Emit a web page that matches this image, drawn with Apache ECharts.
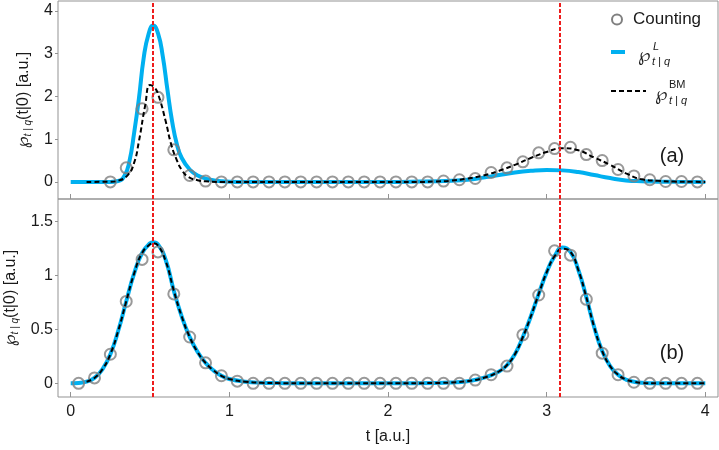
<!DOCTYPE html>
<html>
<head>
<meta charset="utf-8">
<script src="https://cdn.jsdelivr.net/npm/echarts@6/dist/echarts.min.js"></script>
<style>
  html, body { margin: 0; padding: 0; background: #fff; }
  #chart { width: 719px; height: 450px; }
</style>
</head>
<body>
<div id="chart"></div>
<script>
// tick values
const xTicks = [0, 1, 2, 3, 4];
const yTicksA = [0, 1, 2, 3, 4];
const yTicksB = [0, 0.5, 1, 1.5];
const markerTimes = [0.52, 3.08];

// panel (a): counting points
const countT_A = [0.25, 0.35, 0.45, 0.55, 0.65, 0.75, 0.85, 0.95, 1.05, 1.15, 1.25, 1.35, 1.45, 1.55, 1.65, 1.75, 1.85, 1.95,
  2.05, 2.15, 2.25, 2.35, 2.45, 2.55, 2.65, 2.75, 2.85, 2.95, 3.05, 3.15, 3.25, 3.35, 3.45, 3.55, 3.65, 3.75, 3.85, 3.95];
const countA = [0.00, 0.33, 1.71, 1.98, 0.75, 0.15, 0.02, 0.00, 0, 0, 0, 0, 0, 0, 0, 0, 0, 0,
  0, 0, 0.00, 0.02, 0.05, 0.08, 0.22, 0.33, 0.47, 0.68, 0.78, 0.81, 0.64, 0.50, 0.29, 0.14, 0.05, 0.01, 0.01, 0.00];

// panel (a): L curve
const lT_A = [0, 0.25, 0.30, 0.34, 0.37, 0.40, 0.43, 0.46, 0.49, 0.52, 0.55, 0.58, 0.61, 0.64, 0.67, 0.70, 0.75, 0.80, 0.88, 0.95, 1.05,
  2.0, 2.2, 2.4, 2.5, 2.6, 2.7, 2.8, 2.9, 3.0, 3.1, 3.2, 3.3, 3.4, 3.5, 3.6, 3.7, 3.8, 4.0];
const lA = [0, 0, 0.02, 0.15, 0.48, 1.15, 1.95, 2.9, 3.45, 3.66, 3.48, 2.95, 2.15, 1.4, 0.87, 0.56, 0.29, 0.15, 0.05, 0.015, 0,
  0, 0.01, 0.03, 0.05, 0.1, 0.16, 0.22, 0.26, 0.28, 0.27, 0.23, 0.16, 0.09, 0.035, 0.015, 0.006, 0.002, 0];

// panel (a): BM curve
const bmT_A = [0.10, 0.25, 0.30, 0.36, 0.40, 0.43, 0.47, 0.50, 0.53, 0.556, 0.60, 0.634, 0.67, 0.70, 0.74, 0.80, 0.85, 0.95,
  2.2, 2.3, 2.4, 2.5, 2.6, 2.7, 2.8, 2.9, 3.0, 3.1, 3.2, 3.3, 3.4, 3.5, 3.6, 3.7, 3.8, 3.9, 4.0];
const bmA = [0, 0.005, 0.03, 0.16, 0.45, 0.95, 1.8, 2.27, 2.2, 2.0, 1.4, 0.87, 0.5, 0.28, 0.12, 0.04, 0.015, 0,
  0, 0.01, 0.03, 0.08, 0.15, 0.26, 0.4, 0.56, 0.7, 0.79, 0.74, 0.57, 0.4, 0.2, 0.06, 0.025, 0.008, 0.003, 0];

// panel (b): counting points
const countT_B = [0.05, 0.15, 0.25, 0.35, 0.45, 0.55, 0.65, 0.75, 0.85, 0.95, 1.05, 1.15, 1.25, 1.35, 1.45, 1.55, 1.65, 1.75, 1.85, 1.95,
  2.05, 2.15, 2.25, 2.35, 2.45, 2.55, 2.65, 2.75, 2.85, 2.95, 3.05, 3.15, 3.25, 3.35, 3.45, 3.55, 3.65, 3.75, 3.85, 3.95];
const countB = [0.00, 0.05, 0.27, 0.76, 1.15, 1.22, 0.83, 0.43, 0.19, 0.07, 0.02, 0, 0, 0, 0, 0, 0, 0, 0, 0,
  0, 0, 0, 0, 0.00, 0.03, 0.08, 0.16, 0.45, 0.82, 1.23, 1.19, 0.78, 0.28, 0.08, 0.01, 0, 0, 0, 0];

// panel (b): L curve
const lT_B = [0, 0.05, 0.1, 0.15, 0.2, 0.25, 0.3, 0.35, 0.4, 0.45, 0.5, 0.52, 0.55, 0.6, 0.65, 0.7, 0.75, 0.8, 0.85, 0.9, 0.95, 1.0,
  1.1, 1.2, 1.3, 1.5, 2.0, 2.3, 2.4, 2.5, 2.6, 2.7, 2.75, 2.8, 2.85, 2.9, 2.95, 3.0, 3.05, 3.1, 3.15, 3.2, 3.25, 3.3, 3.35, 3.4,
  3.45, 3.5, 3.55, 3.6, 3.7, 3.8, 4.0];
const lB = [0, 0.003, 0.015, 0.05, 0.13, 0.27, 0.49, 0.76, 1.02, 1.21, 1.30, 1.31, 1.29, 1.14, 0.86, 0.62, 0.43, 0.29, 0.19, 0.12, 0.07, 0.04,
  0.015, 0.005, 0.002, 0, 0, 0.003, 0.008, 0.02, 0.05, 0.11, 0.17, 0.27, 0.43, 0.62, 0.83, 1.03, 1.18, 1.26, 1.22, 1.05, 0.8, 0.52, 0.3, 0.16,
  0.08, 0.035, 0.015, 0.005, 0, 0, 0];

// panel (b): BM curve
const bmT_B = [0.1, 0.15, 0.2, 0.25, 0.3, 0.35, 0.4, 0.45, 0.5, 0.52, 0.55, 0.6, 0.65, 0.7, 0.75, 0.8, 0.85, 0.9, 0.95, 1.0,
  1.1, 1.2, 1.3, 1.5, 2.0, 2.3, 2.4, 2.5, 2.6, 2.7, 2.75, 2.8, 2.85, 2.9, 2.95, 3.0, 3.05, 3.1, 3.15, 3.2, 3.25, 3.3, 3.35, 3.4,
  3.45, 3.5, 3.55, 3.6, 3.7, 3.8, 4.0];
const bmB = [0.015, 0.05, 0.13, 0.27, 0.49, 0.76, 1.02, 1.21, 1.29, 1.30, 1.28, 1.13, 0.86, 0.62, 0.43, 0.29, 0.19, 0.12, 0.07, 0.04,
  0.015, 0.005, 0.002, 0, 0, 0.003, 0.008, 0.02, 0.05, 0.11, 0.17, 0.27, 0.43, 0.62, 0.83, 1.03, 1.18, 1.25, 1.22, 1.05, 0.8, 0.52, 0.3, 0.16,
  0.08, 0.035, 0.015, 0.005, 0, 0, 0];

const pairs = (xs, ys) => xs.map((x, i) => [x, ys[i]]);

const BLUE = '#00b0f0';
const RED = '#ee1c1c';
const GRAY = '#808080';
const FRAME = '#939393';
const TXT = '#1a1a1a';
const FONT = 'Liberation Sans, Arial, sans-serif';

const chart = echarts.init(document.getElementById('chart'));

const yName = '{p|℘}{s|t | q}(t|0) [a.u.]';
const yNameStyle = {
    fontSize: 16,
    color: TXT,
    fontFamily: FONT,
    rich: {
        p: { fontSize: 17, fontFamily: 'DejaVu Sans', color: TXT },
        s: { fontSize: 10, fontStyle: 'italic', color: TXT, fontFamily: FONT, padding: [9, 0, 0, 0] }
    }
};

function xAxisFor(gridIndex, withLabels) {
    return {
        type: 'value',
        gridIndex: gridIndex,
        min: -0.08,
        max: 4.08,
        axisLine: { show: false, onZero: false },
        splitLine: { show: false },
        axisTick: {
            show: true,
            inside: true,
            length: 5,
            customValues: xTicks,
            lineStyle: { color: FRAME }
        },
        axisLabel: {
            show: withLabels,
            customValues: xTicks,
            fontSize: 16,
            color: TXT,
            fontFamily: FONT,
            margin: 7
        },
        name: withLabels ? 't [a.u.]' : '',
        nameLocation: 'middle',
        nameGap: 32,
        nameTextStyle: { fontSize: 16, color: TXT, fontFamily: FONT }
    };
}

function yAxisFor(gridIndex, min, max, ticks) {
    return {
        type: 'value',
        gridIndex: gridIndex,
        min: min,
        max: max,
        axisLine: { show: false, onZero: false },
        splitLine: { show: false },
        axisTick: {
            show: true,
            length: 3,
            customValues: ticks,
            lineStyle: { color: FRAME }
        },
        axisLabel: {
            customValues: ticks,
            fontSize: 16,
            color: TXT,
            fontFamily: FONT,
            margin: 5
        },
        name: yName,
        nameLocation: 'middle',
        nameRotate: 90,
        nameGap: 24,
        nameTextStyle: yNameStyle
    };
}

const markLine = {
    symbol: 'none',
    silent: true,
    label: { show: false },
    lineStyle: { color: RED, type: [4, 2], width: 2 },
    data: markerTimes.map(t => ({ xAxis: t }))
};

const gridBase = { left: 58, right: 1, height: 198, show: true, borderColor: FRAME, borderWidth: 1, containLabel: false, outerBoundsMode: 'none' };

const option = {
    animation: false,
    grid: [
        Object.assign({ top: 1 }, gridBase),
        Object.assign({ top: 199 }, gridBase)
    ],
    xAxis: [xAxisFor(0, false), xAxisFor(1, true)],
    yAxis: [
        yAxisFor(0, -0.4, 4.234, yTicksA),
        yAxisFor(1, -0.127, 1.711, yTicksB)
    ],
    series: [
        {
            name: 'Counting', type: 'scatter', xAxisIndex: 0, yAxisIndex: 0,
            data: pairs(countT_A, countA), symbol: 'circle', symbolSize: 11, z: 3,
            itemStyle: { color: 'rgba(0,0,0,0)', borderColor: GRAY, borderWidth: 2 }
        },
        {
            name: 'L', type: 'line', xAxisIndex: 0, yAxisIndex: 0,
            data: pairs(lT_A, lA), smooth: 0.5, showSymbol: false, z: 2,
            lineStyle: { color: BLUE, width: 4 }, markLine: markLine
        },
        {
            name: 'BM', type: 'line', xAxisIndex: 0, yAxisIndex: 0,
            data: pairs(bmT_A, bmA), smooth: 0.5, showSymbol: false, z: 4,
            lineStyle: { color: '#000', width: 2, type: [5, 3] }
        },
        {
            name: 'Counting', type: 'scatter', xAxisIndex: 1, yAxisIndex: 1,
            data: pairs(countT_B, countB), symbol: 'circle', symbolSize: 11, z: 3,
            itemStyle: { color: 'rgba(0,0,0,0)', borderColor: GRAY, borderWidth: 2 }
        },
        {
            name: 'L', type: 'line', xAxisIndex: 1, yAxisIndex: 1,
            data: pairs(lT_B, lB), smooth: 0.5, showSymbol: false, z: 2,
            lineStyle: { color: BLUE, width: 4 }, markLine: markLine
        },
        {
            name: 'BM', type: 'line', xAxisIndex: 1, yAxisIndex: 1,
            data: pairs(bmT_B, bmB), smooth: 0.5, showSymbol: false, z: 4,
            lineStyle: { color: '#000', width: 2, type: [5, 3] }
        }
    ],
    graphic: [
        // legend
        { type: 'circle', shape: { cx: 617, cy: 19.5, r: 5 }, style: { fill: 'none', stroke: GRAY, lineWidth: 2 }, z: 10 },
        { type: 'text', x: 633, y: 19.5, style: { text: 'Counting', fontSize: 17, fontFamily: FONT, fill: TXT, verticalAlign: 'middle' }, z: 10 },
        { type: 'line', shape: { x1: 611, y1: 52, x2: 625, y2: 52 }, style: { stroke: BLUE, lineWidth: 4 }, z: 10 },
        { type: 'text', x: 638, y: 56, style: { text: '℘', fontSize: 18, fontFamily: 'DejaVu Sans', fill: TXT, verticalAlign: 'middle' }, z: 10 },
        { type: 'text', x: 653, y: 47, style: { text: 'L', fontSize: 11, fontStyle: 'italic', fontFamily: FONT, fill: TXT, verticalAlign: 'middle' }, z: 10 },
        { type: 'text', x: 652, y: 62, style: { text: 't | q', fontSize: 11, fontStyle: 'italic', fontFamily: FONT, fill: TXT, verticalAlign: 'middle' }, z: 10 },
        { type: 'line', shape: { x1: 611, y1: 91, x2: 646, y2: 91 }, style: { stroke: '#000', lineWidth: 2, lineDash: [5, 3] }, z: 10 },
        { type: 'text', x: 655, y: 95, style: { text: '℘', fontSize: 18, fontFamily: 'DejaVu Sans', fill: TXT, verticalAlign: 'middle' }, z: 10 },
        { type: 'text', x: 669, y: 85, style: { text: 'BM', fontSize: 11, fontFamily: FONT, fill: TXT, verticalAlign: 'middle' }, z: 10 },
        { type: 'text', x: 669, y: 101, style: { text: 't | q', fontSize: 11, fontStyle: 'italic', fontFamily: FONT, fill: TXT, verticalAlign: 'middle' }, z: 10 },
        // panel tags
        { type: 'text', x: 672, y: 156, style: { text: '(a)', fontSize: 20, fontFamily: FONT, fill: TXT, align: 'center', verticalAlign: 'middle' }, z: 10 },
        { type: 'text', x: 672, y: 353, style: { text: '(b)', fontSize: 20, fontFamily: FONT, fill: TXT, align: 'center', verticalAlign: 'middle' }, z: 10 }
    ]
};

chart.setOption(option);
window.addEventListener('resize', () => chart.resize());
</script>
</body>
</html>
